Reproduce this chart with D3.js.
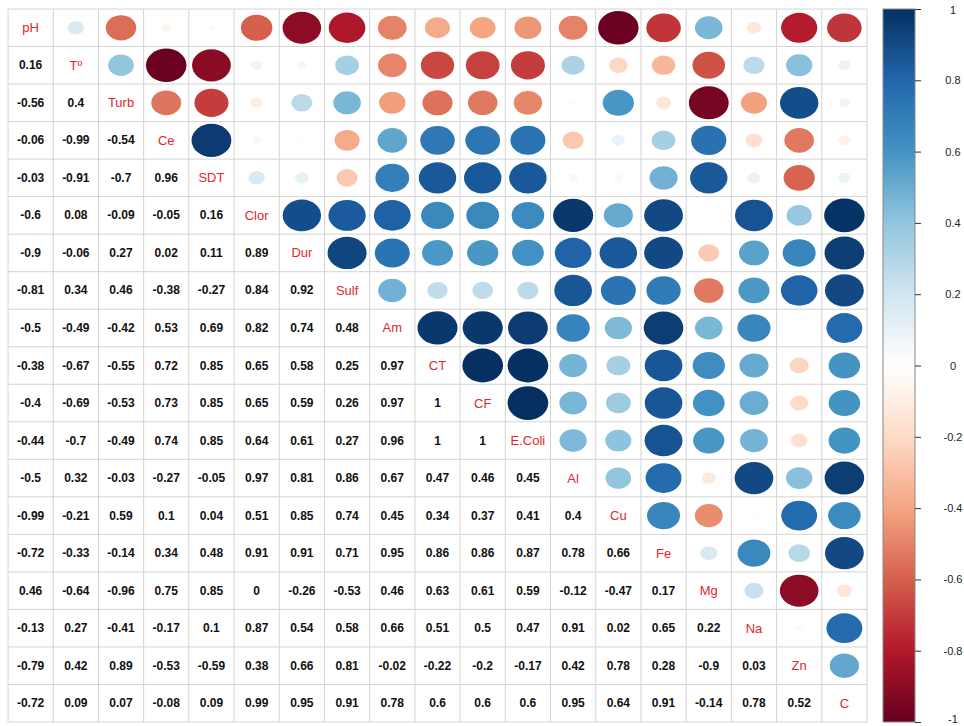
<!DOCTYPE html>
<html>
<head>
<meta charset="utf-8">
<script src="https://cdn.jsdelivr.net/npm/d3@7"></script>
<style>
  body { margin: 0; background: #fff; }
  text { font-family: "Liberation Sans", Arial, sans-serif; }
</style>
</head>
<body>
<div class="graph"></div>
<script>
// variable names (diagonal labels)
const vars = ["pH", "Tº", "Turb", "Ce", "SDT", "Clor", "Dur", "Sulf", "Am", "CT", "CF",
              "E.Coli", "Al", "Cu", "Fe", "Mg", "Na", "Zn", "C"];

// lower triangle of the correlation matrix, row by row
const lower = [
  [],
  [0.16],
  [-0.56, 0.4],
  [-0.06, -0.99, -0.54],
  [-0.03, -0.91, -0.7, 0.96],
  [-0.6, 0.08, -0.09, -0.05, 0.16],
  [-0.9, -0.06, 0.27, 0.02, 0.11, 0.89],
  [-0.81, 0.34, 0.46, -0.38, -0.27, 0.84, 0.92],
  [-0.5, -0.49, -0.42, 0.53, 0.69, 0.82, 0.74, 0.48],
  [-0.38, -0.67, -0.55, 0.72, 0.85, 0.65, 0.58, 0.25, 0.97],
  [-0.4, -0.69, -0.53, 0.73, 0.85, 0.65, 0.59, 0.26, 0.97, 1],
  [-0.44, -0.7, -0.49, 0.74, 0.85, 0.64, 0.61, 0.27, 0.96, 1, 1],
  [-0.5, 0.32, -0.03, -0.27, -0.05, 0.97, 0.81, 0.86, 0.67, 0.47, 0.46, 0.45],
  [-0.99, -0.21, 0.59, 0.1, 0.04, 0.51, 0.85, 0.74, 0.45, 0.34, 0.37, 0.41, 0.4],
  [-0.72, -0.33, -0.14, 0.34, 0.48, 0.91, 0.91, 0.71, 0.95, 0.86, 0.86, 0.87, 0.78, 0.66],
  [0.46, -0.64, -0.96, 0.75, 0.85, 0, -0.26, -0.53, 0.46, 0.63, 0.61, 0.59, -0.12, -0.47, 0.17],
  [-0.13, 0.27, -0.41, -0.17, 0.1, 0.87, 0.54, 0.58, 0.66, 0.51, 0.5, 0.47, 0.91, 0.02, 0.65, 0.22],
  [-0.79, 0.42, 0.89, -0.53, -0.59, 0.38, 0.66, 0.81, -0.02, -0.22, -0.2, -0.17, 0.42, 0.78, 0.28, -0.9, 0.03],
  [-0.72, 0.09, 0.07, -0.08, 0.09, 0.99, 0.95, 0.91, 0.78, 0.6, 0.6, 0.6, 0.95, 0.64, 0.91, -0.14, 0.78, 0.52]
];

// colour bar ticks and the RdBu palette stops
const barTicks = [-1, -0.8, -0.6, -0.4, -0.2, 0, 0.2, 0.4, 0.6, 0.8, 1];
const palette = ["#67001F", "#B2182B", "#D6604D", "#F4A582", "#FDDBC7", "#FFFFFF",
                 "#D1E5F0", "#92C5DE", "#4393C3", "#2166AC", "#053061"];

//define dimensions
const SIZE = {X: 964, Y: 726};
const GRID = {LEFT: 8, RIGHT: 867, TOP: 9, BOTTOM: 722};
const BAR = {LEFT: 883, RIGHT: 915};

const svg = d3.select(".graph").append("svg")
    .attr("width", SIZE.X)
    .attr("height", SIZE.Y);

//scales
const x = d3.scaleBand().domain(vars).range([GRID.LEFT, GRID.RIGHT]);
const y = d3.scaleBand().domain(vars).range([GRID.TOP, GRID.BOTTOM]);
const color = d3.scaleLinear().domain(barTicks).range(palette);

// build all cells of the full matrix
const cells = [];
vars.forEach((rv, i) => {
    vars.forEach((cv, j) => {
        let r = null;
        if (j < i) r = lower[i][j];
        else if (j > i) r = lower[j][i];
        cells.push({row: rv, col: cv, i, j, r});
    });
});

//grid
const grid = svg.append("g");
grid.selectAll("line.v")
    .data(d3.range(vars.length + 1))
    .enter().append("line")
    .attr("x1", k => GRID.LEFT + k * x.step())
    .attr("x2", k => GRID.LEFT + k * x.step())
    .attr("y1", GRID.TOP).attr("y2", GRID.BOTTOM)
    .attr("stroke", "#d4d4d4").attr("stroke-width", 1);
grid.selectAll("line.h")
    .data(d3.range(vars.length + 1))
    .enter().append("line")
    .attr("y1", k => GRID.TOP + k * y.step())
    .attr("y2", k => GRID.TOP + k * y.step())
    .attr("x1", GRID.LEFT).attr("x2", GRID.RIGHT)
    .attr("stroke", "#d4d4d4").attr("stroke-width", 1);

//upper triangle: ellipses with area ~ |r|
svg.append("g").selectAll("ellipse")
    .data(cells.filter(d => d.j > d.i))
    .enter().append("ellipse")
    .attr("cx", d => x(d.col) + x.bandwidth() / 2)
    .attr("cy", d => y(d.row) + y.bandwidth() / 2)
    .attr("rx", d => 0.45 * x.bandwidth() * Math.sqrt(Math.abs(d.r)))
    .attr("ry", d => 0.45 * y.bandwidth() * Math.sqrt(Math.abs(d.r)))
    .attr("fill", d => color(d.r));

//lower triangle: numbers
svg.append("g").selectAll("text")
    .data(cells.filter(d => d.j < d.i))
    .enter().append("text")
    .attr("x", d => x(d.col) + x.bandwidth() / 2)
    .attr("y", d => y(d.row) + y.bandwidth() / 2)
    .attr("text-anchor", "middle")
    .attr("dominant-baseline", "central")
    .attr("font-size", 12)
    .attr("font-weight", "bold")
    .attr("fill", "#111")
    .text(d => String(d.r));

//diagonal labels
svg.append("g").selectAll("text")
    .data(vars)
    .enter().append("text")
    .attr("x", d => x(d) + x.bandwidth() / 2)
    .attr("y", d => y(d) + y.bandwidth() / 2)
    .attr("text-anchor", "middle")
    .attr("dominant-baseline", "central")
    .attr("font-size", 13)
    .attr("fill", "#e3262b")
    .text(d => d);

//colour bar
const defs = svg.append("defs");
const grad = defs.append("linearGradient")
    .attr("id", "bar")
    .attr("x1", 0).attr("x2", 0).attr("y1", 1).attr("y2", 0);
grad.selectAll("stop")
    .data(barTicks)
    .enter().append("stop")
    .attr("offset", d => (d + 1) / 2)
    .attr("stop-color", d => color(d));

svg.append("rect")
    .attr("x", BAR.LEFT).attr("y", GRID.TOP)
    .attr("width", BAR.RIGHT - BAR.LEFT)
    .attr("height", GRID.BOTTOM - GRID.TOP)
    .attr("fill", "url(#bar)")
    .attr("stroke", "#888").attr("stroke-width", 1);

const yBar = d3.scaleLinear().domain([-1, 1]).range([GRID.BOTTOM, GRID.TOP]);
const barAxis = svg.append("g")
    .attr("transform", `translate(${BAR.RIGHT}, 0)`)
    .call(d3.axisRight(yBar).tickValues(barTicks).tickSize(6).tickFormat(d => String(d)));
barAxis.select(".domain").remove();
barAxis.selectAll("line").attr("stroke", "#333");
barAxis.selectAll("text")
    .attr("x", 953 - BAR.RIGHT)
    .attr("dy", d => d === -1 ? "0.05em" : d === 1 ? "0.4em" : "0.32em")
    .attr("text-anchor", "middle")
    .attr("font-size", 11)
    .attr("font-family", "Liberation Sans, Arial, sans-serif")
    .attr("fill", "#222");
</script>
</body>
</html>
